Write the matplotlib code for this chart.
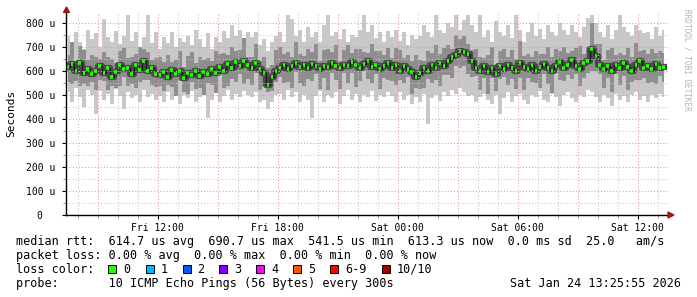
import numpy as np
import matplotlib
matplotlib.use("Agg")
import matplotlib.pyplot as plt
from matplotlib.patches import Polygon, Rectangle
from matplotlib.transforms import IdentityTransform

# time axis: hours since Fri 00:00, one sample every 12 minutes
START = 7.5
STEP = 0.2

# median rtt (microseconds)
median = [615, 628, 598, 632, 590, 605, 585, 600, 618, 592, 610, 575, 595, 622, 605, 612, 588, 625, 603, 640, 598, 610, 588,
          580, 596, 575, 603, 585, 598, 570, 590, 582, 600, 578, 595, 588, 605, 592, 615, 598, 626, 612, 635, 618, 640, 622,
          612, 630, 605, 590, 542, 575, 600,
          612, 625, 608, 620, 630, 615, 622, 610, 628, 618, 605, 620, 614, 632, 620, 610, 625, 618, 635, 622, 612, 628, 640, 615, 625, 608, 620, 630,
          612, 625, 600, 618, 605, 595, 575, 590, 610, 600, 622, 612, 630, 620, 640, 655, 665, 680, 676, 668,
          640, 612, 600, 618, 595, 610, 585, 620, 605, 625, 612, 598, 630, 615, 605, 622, 600, 615, 628, 610, 598, 620, 635, 612, 625, 645, 620, 608, 630, 640,
          690, 660, 625, 605, 618, 598, 622, 610, 632, 615, 600, 625, 640, 610, 620, 605, 628, 612, 615]

# slowest ping per step
ping_max = [745, 700, 760, 720, 690, 770, 730, 755, 700, 815, 740, 720, 765, 710, 745, 830, 725, 760, 700, 740, 830, 715, 760,
            690, 740, 715, 760, 700, 735, 720, 745, 705, 770, 730, 700, 755, 690, 740, 720, 765, 735, 790, 745, 770, 735, 760,
            740, 760, 705, 730, 680, 720, 745,
            760, 720, 830, 815, 745, 770, 720, 780, 740, 760, 720, 790, 830, 745, 760, 730, 775, 720, 750, 740, 770, 830, 760, 790, 735, 760, 720, 765,
            740, 770, 725, 760, 705, 750, 730, 745, 790, 760, 740, 830, 770, 755, 800, 780, 830, 770, 810, 830,
            790, 760, 830, 740, 770, 720, 805, 760, 745, 790, 735, 830, 770, 720, 760, 800, 745, 775, 730, 790, 760, 745, 800, 770, 750, 790, 760, 740, 780, 820,
            830, 800, 760, 740, 790, 730, 770, 830, 780, 760, 745, 790, 770, 755, 760, 730, 780, 745, 770]

# fastest ping per step
ping_min = [510, 470, 530, 490, 450, 520, 500, 420, 515, 480, 505, 460, 525, 495, 440, 510, 485, 500, 470, 520, 490, 505, 480,
            495, 470, 510, 480, 520, 460, 500, 485, 515, 470, 490, 500, 405, 480, 510, 470, 495, 520, 480, 505, 490, 515, 500,
            490, 510, 470, 480, 440, 470, 500,
            505, 480, 520, 490, 510, 470, 500, 480, 405, 495, 515, 470, 500, 485, 510, 460, 495, 520, 480, 505, 470, 500, 490, 515, 475, 500, 490, 510,
            495, 470, 510, 480, 500, 460, 490, 470, 505, 380, 485, 500, 475, 510, 495, 520, 505, 530, 510, 495,
            500, 470, 490, 505, 480, 460, 500, 420, 485, 510, 470, 495, 505, 480, 460, 500, 490, 515, 480, 470, 505, 490, 455, 500, 510, 485, 470, 500, 490, 520,
            510, 490, 470, 500, 485, 455, 505, 480, 495, 470, 500, 510, 480, 495, 470, 500, 485, 505, 490]

# inner smoke band (2nd..9th ping)
band_lo = [555, 543, 558, 537, 545, 535, 555, 520, 563, 557, 520, 535, 530, 537, 575, 537, 543, 530, 553, 560, 563, 540, 533,
           535, 516, 540, 533, 495, 558, 510, 505, 552, 525, 528, 500, 548, 540, 507, 580, 528, 536, 567, 555, 588, 545, 567,
           542, 590, 520, 535, 512, 515, 555,
           572, 550, 553, 530, 595, 550, 537, 565, 558, 588, 525, 570, 519, 592, 560, 525, 590, 548, 590, 532, 557, 598, 565, 550, 585, 523, 570, 560,
           557, 540, 560, 548, 575, 505, 530, 525, 530, 565, 547, 562, 535, 580, 580, 570, 620, 610, 621, 588,
           575, 577, 520, 568, 505, 570, 515, 565, 575, 540, 567, 523, 570, 520, 570, 552, 550, 530, 588, 545, 508, 590, 560, 557, 580, 565, 585, 538, 570, 590,
           600, 600, 585, 530, 568, 513, 587, 540, 577, 520, 555, 560, 560, 570, 550, 555, 543, 577, 555]
band_hi = [665, 718, 633, 702, 685, 645, 665, 655, 648, 677, 655, 650, 630, 682, 695, 652, 658, 670, 698, 690, 678, 645, 653,
           655, 636, 665, 638, 645, 683, 615, 660, 677, 630, 658, 645, 653, 640, 682, 670, 673, 666, 697, 680, 688, 735, 657,
           657, 710, 640, 655, 612, 625, 685,
           697, 670, 678, 655, 720, 670, 662, 690, 678, 713, 640, 685, 689, 677, 705, 640, 685, 708, 675, 692, 692, 678, 675, 710, 680, 683, 665, 695,
           652, 695, 685, 653, 665, 640, 665, 645, 640, 680, 672, 707, 670, 695, 705, 690, 750, 730, 746, 713,
           685, 692, 655, 653, 665, 700, 625, 680, 690, 655, 687, 648, 725, 660, 670, 657, 680, 670, 668, 700, 658, 690, 680, 697, 675, 680, 695, 703, 670, 700,
           800, 710, 710, 645, 688, 693, 667, 675, 667, 695, 655, 715, 680, 685, 670, 690, 673, 682, 675]

x_ticks = [12, 18, 24, 30, 36]
x_labels = ["Fri 12:00", "Fri 18:00", "Sat 00:00", "Sat 06:00", "Sat 12:00"]
y_ticks = [0, 100, 200, 300, 400, 500, 600, 700, 800]
y_labels = ["0  ", "100 u", "200 u", "300 u", "400 u", "500 u", "600 u", "700 u", "800 u"]

loss_labels = ["0", "1", "2", "3", "4", "5", "6-9", "10/10"]
loss_colors = ["#26ff00", "#00b8ff", "#0059ff", "#7e00ff", "#ff00ff", "#ff5500", "#ff0000", "#a10000"]

W, H = 697, 297
MONO = "DejaVu Sans Mono"

t = START + STEP * np.arange(len(median))

fig = plt.figure(figsize=(W / 100, H / 100), dpi=100, facecolor="white")
ax = fig.add_axes([66 / W, 82 / H, 602 / W, 203 / H])
ax.set_xlim(7.415, 37.515)
ax.set_ylim(0, 844)

# smoke
ax.fill_between(t, ping_min, ping_max, step="mid", color="#c8c8c8", lw=0, zorder=1)
ax.fill_between(t, band_lo, band_hi, step="mid", color="#8e8e8e", lw=0, zorder=2)
ax.plot(t, median, drawstyle="steps-mid", color="#4a4a4a", lw=4.5, zorder=3)
ax.plot(t, median, drawstyle="steps-mid", color="#1a1a1a", lw=1.0, zorder=4)
ax.hlines(median, t - STEP * 0.3, t + STEP * 0.3, color=loss_colors[0], lw=2.6, zorder=6)

# grid (drawn over the smoke like rrdtool)
for h in range(8, 38):
    col = "#e09898" if h % 3 == 0 else "#c4c4c4"
    ax.axvline(h, color=col, lw=0.75, ls=(0, (1, 2)), zorder=5)
for v in range(50, 844, 50):
    col = "#e09898" if v % 100 == 0 else "#c4c4c4"
    ax.axhline(v, color=col, lw=0.75, ls=(0, (1, 2)), zorder=5)

for s in ["top", "right"]:
    ax.spines[s].set_visible(False)
for s in ["left", "bottom"]:
    ax.spines[s].set_color("black")
    ax.spines[s].set_linewidth(1)
    ax.spines[s].set_zorder(7)

ax.set_xticks(x_ticks)
ax.set_xticklabels(x_labels, fontfamily=MONO, fontsize=7)
ax.set_xticks(range(8, 38), minor=True)
ax.set_yticks(y_ticks)
ax.set_yticklabels(y_labels, fontfamily=MONO, fontsize=7)
ax.set_yticks(range(50, 844, 100), minor=True)
ax.tick_params(axis="both", which="major", length=3, width=0.8, color="black", pad=3)
ax.tick_params(axis="both", which="minor", length=2, width=0.6, color="#888888")
ax.tick_params(axis="y", pad=5)

# axis arrows
arrow = "#a01818"
fig.patches.append(Polygon([(63.5, H - 12.5), (69.5, H - 12.5), (66.5, H - 7)], closed=True,
                           transform=IdentityTransform(), color=arrow, figure=fig))
fig.patches.append(Polygon([(668, H - 212), (668, H - 218), (674, H - 215)], closed=True,
                           transform=IdentityTransform(), color=arrow, figure=fig))

def ftext(x, y, s, **kw):
    kw.setdefault("fontfamily", MONO)
    kw.setdefault("va", "center")
    fig.text(x / W, 1 - y / H, s, **kw)

ftext(11, 113, "Seconds", fontsize=8, rotation=90, ha="center")
ftext(687, 60, "RRDTOOL / TOBI OETIKER", fontsize=5.6, rotation=270, ha="center", color="#b4b4b4")

FS = 8.5
ftext(16, 241.5, "median rtt:  614.7 us avg  690.7 us max  541.5 us min  613.3 us now  0.0 ms sd  25.0   am/s", fontsize=FS)
ftext(16, 255.5, "packet loss: 0.00 % avg  0.00 % max  0.00 % min  0.00 % now", fontsize=FS)
ftext(16, 269.5, "loss color:", fontsize=FS)
box_x = [108, 145.5, 182.5, 219, 256, 293, 330, 382]
for bx, lab, col in zip(box_x, loss_labels, loss_colors):
    fig.patches.append(Rectangle((bx, H - 273), 8, 8, transform=IdentityTransform(),
                                 facecolor=col, edgecolor="black", lw=0.7, figure=fig))
    ftext(bx + 15, 269.5, lab, fontsize=FS)
ftext(16, 283.5, "probe:       10 ICMP Echo Pings (56 Bytes) every 300s", fontsize=FS)
ftext(681, 283.5, "Sat Jan 24 13:25:55 2026", fontsize=FS, ha="right")

fig.savefig("out.png", dpi=100, facecolor="white")
